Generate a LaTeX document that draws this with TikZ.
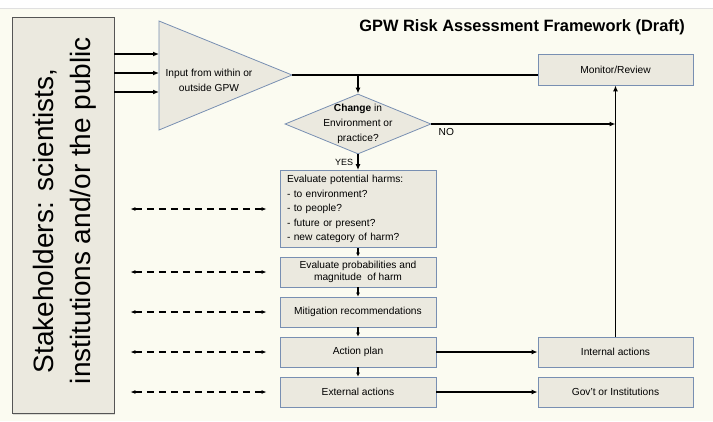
\documentclass[tikz,border=0pt]{standalone}
\usepackage{fontspec}
\setmainfont{Liberation Sans}
\usetikzlibrary{arrows.meta,positioning,shapes.geometric,shadows}
\definecolor{bgcream}{RGB}{251,251,241}
\definecolor{boxfill}{RGB}{235,233,223}
\definecolor{boxline}{RGB}{120,143,178}
\definecolor{stakeline}{RGB}{85,85,85}
\begin{document}
\begin{tikzpicture}[x=1pt,y=-1pt,
    txt/.style={font=\fontsize{10.2}{15}\selectfont,align=center,inner sep=0pt},
    staketext/.style={rotate=90,anchor=base,inner sep=0pt,font=\fontsize{28}{34}\selectfont},
    box/.style={draw=boxline,fill=boxfill,line width=0.8pt,minimum width=156pt,
      minimum height=30pt,inner sep=2pt,font=\fontsize{10.2}{14.5}\selectfont,align=center},
    arr/.style={line width=1.8pt,-{Latex[length=6pt,width=5pt]}},
    smallarr/.style={line width=1.3pt,-{Latex[length=4pt,width=4pt]}},
    dasharr/.style={line width=1.5pt,dash pattern=on 7pt off 5pt,
      {Latex[length=5pt,width=4pt]}-{Latex[length=5pt,width=4pt]}}]
  \useasboundingbox (0,0) rectangle (713,421);
  \fill[white] (0,0) rectangle (713,421);
  \fill[bgcream] (0,8) rectangle (713,421);
  \draw[black!12,line width=0.8pt] (0,8) -- (713,8);
  % title
  \node[anchor=east,inner sep=0pt,font=\bfseries\fontsize{16.4}{20}\selectfont] (title) at (685,27) {GPW Risk Assessment Framework (Draft)};
  % stakeholders
  \node[draw=stakeline,fill=boxfill,line width=0.8pt,minimum width=102pt,minimum height=396pt,
    drop shadow={shadow xshift=1pt,shadow yshift=-2pt,opacity=0.25}] (stake) at (63,215) {};
  \node[staketext] (stake1) at (53,221) {Stakeholders: scientists,};
  \node[staketext] (stake2) at (90,210.5) {institutions and/or the public};
  % input triangle
  \draw[draw=boxline,fill=boxfill,line width=0.8pt] (159,21) -- (292,75) coordinate (tip) -- (159,130) -- cycle;
  \node[txt] (inputtxt) at (209,80.5) {Input from within or\\outside GPW};
  \foreach \y [count=\i] in {54,73,92}{
    \coordinate (in\i) at (159,\y);
    \draw[arr] (stake.east |- in\i) -- (in\i);
  }
  % decision
  \node[diamond,draw=boxline,fill=boxfill,line width=0.8pt,minimum width=146pt,minimum height=60pt,inner sep=0pt] (chg) at (358,124) {};
  \node[txt] (chgtxt) at (358,124) {\textbf{Change} in\\Environment or\\practice?};
  % boxes
  \node[box,minimum height=77pt,align=left,text width=142pt,inner xsep=7pt] (eval) at (358,209) {Evaluate potential harms:\\- to environment?\\- to people?\\- future or present?\\- new category of harm?};
  \node[box] (prob) at (358,272) {Evaluate probabilities and\\[-2pt]magnitude\ \ of harm};
  \node[box] (mit) at (358,312) {Mitigation recommendations};
  \node[box] (act) at (358,352) {Action plan};
  \node[box] (ext) at (358,392) {External actions};
  \node[box,minimum width=155pt,minimum height=31pt] (mon) at (615.5,69.5) {Monitor/Review};
  \node[box,minimum width=155pt] (intl) at (615.5,352) {Internal actions};
  \node[box,minimum width=155pt] (gov) at (615.5,392) {Gov't or Institutions};
  % connectors
  \draw[line width=1.8pt] (tip) -- (tip -| mon.west);
  \draw[arr] (chg.north |- tip) -- (chg.north);
  \draw[arr] (chg.south) -- node[left=4pt,font=\fontsize{9}{10}\selectfont,inner sep=0pt] (yes) {YES} (eval.north);
  \draw[arr] (chg.east) -- node[pos=0,below right,xshift=3pt,font=\fontsize{10.2}{12}\selectfont] (no) {NO} (chg.east -| intl.north);
  \draw[arr] (intl.north) -- (mon.south);
  \draw[smallarr] (eval) -- (prob);
  \draw[smallarr] (prob) -- (mit);
  \draw[smallarr] (mit) -- (act);
  \draw[smallarr] (act) -- (ext);
  \draw[arr] (act) -- (intl);
  \draw[arr] (ext) -- (gov);
  \foreach \n in {eval,prob,mit,act,ext}
    \draw[dasharr] ([xshift=16pt]stake.east |- \n.west) -- ([xshift=-13pt]\n.west);
\end{tikzpicture}
\end{document}
